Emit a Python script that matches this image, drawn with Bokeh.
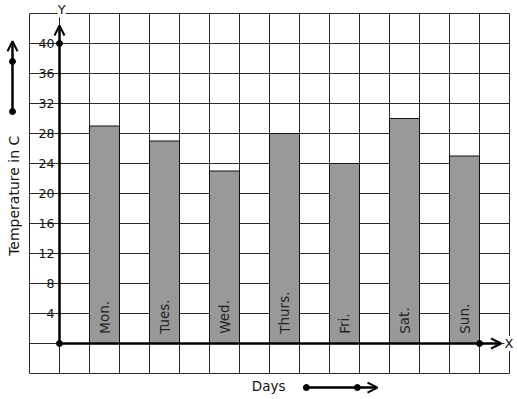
from bokeh.plotting import figure
from bokeh.models import Range1d, Arrow, OpenHead
from bokeh.core.properties import value
from bokeh.embed import file_html
from bokeh.resources import INLINE

days = ["Mon.", "Tues.", "Wed.", "Thurs.", "Fri.", "Sat.", "Sun."]
temps = [29, 27, 23, 28, 24, 30, 25]
y_ticks = [4, 8, 12, 16, 20, 24, 28, 32, 36, 40]
y_tick_labels = [str(t) for t in y_ticks]

FONT = value("DejaVu Sans")

# pixel -> data: x = (px-59)/30 (one grid cell = 1 unit), y = (343-py)/7.5 (one cell = 4 degrees)
p = figure(width=517, height=399, output_backend="svg", toolbar_location=None,
           x_range=Range1d(-59 / 30, 458 / 30), y_range=Range1d(-56 / 7.5, 343 / 7.5),
           x_axis_location=None, y_axis_location=None, min_border=0,
           outline_line_color=None, background_fill_color="white",
           border_fill_color="white")
p.grid.visible = False

# grid
xs_v = list(range(-1, 16))
ys_h = list(range(-4, 45, 4))
p.segment(x0=xs_v, y0=[-4] * len(xs_v), x1=xs_v, y1=[44] * len(xs_v),
          line_color="#2a2a2a", line_width=1)
p.segment(x0=[-1] * len(ys_h), y0=ys_h, x1=[15] * len(ys_h), y1=ys_h,
          line_color="#2a2a2a", line_width=1)

# bars
bar_x = [2 * i + 1.5 for i in range(len(days))]
p.vbar(x=bar_x, top=temps, bottom=0, width=1, fill_color="#999999",
       line_color="#111111", line_width=1)

# bar labels
p.text(x=bar_x, y=[1.3] * len(days), text=days, angle=1.5708,
       text_align="left", text_baseline="middle", text_font=FONT,
       text_font_size="13.5px", text_color="#222222")

# y tick labels
p.text(x=[-0.17] * len(y_ticks), y=y_ticks, text=y_tick_labels,
       text_align="right", text_baseline="middle", text_font=FONT,
       text_font_size="12.5px", text_color="#111111")

# axes with arrows
p.add_layout(Arrow(x_start=0, y_start=0, x_end=0, y_end=42.4, line_width=2.5,
                   line_color="black",
                   end=OpenHead(size=10, line_width=2, line_color="black")))
p.add_layout(Arrow(x_start=0, y_start=0, x_end=14.72, y_end=0, line_width=2.5,
                   line_color="black",
                   end=OpenHead(size=10, line_width=2, line_color="black")))
p.scatter(x=[0, 0, 14], y=[0, 40, 0], size=6, color="black")

# axis letters
p.text(x=[0.07], y=[44.5], text=["Y"], text_align="center", text_baseline="middle",
       text_font=FONT, text_font_size="13px", text_color="#111111",
       background_fill_color="white")
p.text(x=[14.98], y=[0], text=["X"], text_align="center", text_baseline="middle",
       text_font=FONT, text_font_size="13px", text_color="#111111",
       background_fill_color="white")

# y title with decorative arrow
p.text(x=[-1.53], y=[19.7], text=["Temperature in C"], angle=1.5708,
       text_align="center", text_baseline="middle", text_font=FONT,
       text_font_size="14px", text_color="#111111")
p.add_layout(Arrow(x_start=-1.567, y_start=30.93, x_end=-1.567, y_end=40.3,
                   line_width=2.5, line_color="black",
                   end=OpenHead(size=10, line_width=2, line_color="black")))
p.scatter(x=[-1.567, -1.567], y=[30.93, 37.6], size=6, color="black")

# x title with decorative arrow
p.text(x=[6.97], y=[-5.73], text=["Days"], text_align="center", text_baseline="middle",
       text_font=FONT, text_font_size="13.5px", text_color="#111111")
p.add_layout(Arrow(x_start=8.23, y_start=-5.87, x_end=10.6, y_end=-5.87,
                   line_width=2.5, line_color="black",
                   end=OpenHead(size=10, line_width=2, line_color="black")))
p.scatter(x=[8.23, 9.93], y=[-5.87, -5.87], size=6, color="black")

open("out.html", "w").write(file_html(p, INLINE))
